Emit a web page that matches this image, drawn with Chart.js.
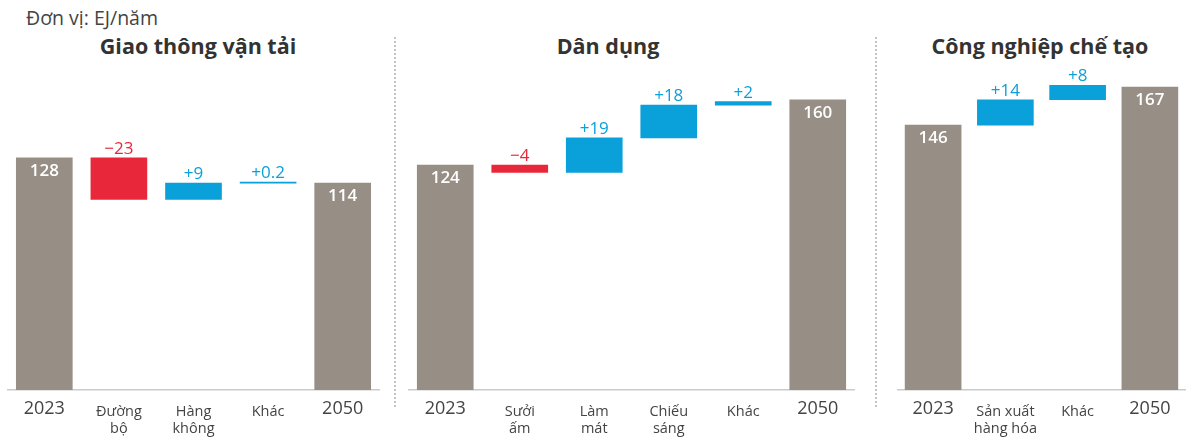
<!DOCTYPE html>
<html>
<head>
<meta charset="utf-8">
<script src="https://cdn.jsdelivr.net/npm/chart.js@4"></script>
<style>
  body { margin: 0; background: #fff; font-family: "Open Sans", sans-serif; }
  #wrap { position: relative; width: 1200px; height: 447px; overflow: hidden; }
  canvas { position: absolute; top: 0; }
  .tieude { position: absolute; top: 31px; font-weight: 700; font-size: 21.5px; color: #333; transform: translateX(-50%); white-space: nowrap; }
  .donvi { position: absolute; left: 26px; top: 4px; font-size: 19.5px; color: #444; }
  .vach { position: absolute; top: 37px; height: 370px; width: 0; border-left: 2px dotted #c4c4c4; }
</style>
</head>
<body>
<div id="wrap">
  <div class="donvi">Đơn vị: EJ/năm</div>
  <div class="tieude" style="left:198px">Giao thông vận tải</div>
  <div class="tieude" style="left:608px">Dân dụng</div>
  <div class="tieude" style="left:1040px">Công nghiệp chế tạo</div>
  <div class="vach" style="left:394px"></div>
  <div class="vach" style="left:875px"></div>
  <canvas id="c1" width="373" height="447" style="left:7px"></canvas>
  <canvas id="c2" width="447" height="447" style="left:408px"></canvas>
  <canvas id="c3" width="289" height="447" style="left:897px"></canvas>
</div>
<script>
// Giao thông vận tải
const nhanGT = ["2023", ["Đường", "bộ"], ["Hàng", "không"], "Khác", "2050"];
const dauGT = 128;
const thayDoiGT = [-23, 9, 0.2];
const cuoiGT = 114;

// Dân dụng
const nhanDD = ["2023", ["Sưởi", "ấm"], ["Làm", "mát"], ["Chiếu", "sáng"], "Khác", "2050"];
const dauDD = 124;
const thayDoiDD = [-4, 19, 18, 2];
const cuoiDD = 160;

// Công nghiệp chế tạo
const nhanCN = ["2023", ["Sản xuất", "hàng hóa"], "Khác", "2050"];
const dauCN = 146;
const thayDoiCN = [14, 8];
const cuoiCN = 167;

const yMax = 183;

const mauTong = "#978e85";
const mauGiam = "#e8283a";
const mauTang = "#0aa0da";
const mauChu = "#444";

function taoDuLieu(dau, thayDoi, cuoi) {
  const data = [[0, dau]];
  const nhanSo = [String(dau)];
  let muc = dau;
  thayDoi.forEach((d) => {
    data.push([muc, muc + d]);
    nhanSo.push((d < 0 ? "\u2212" : "+") + Math.abs(d));
    muc += d;
  });
  data.push([0, cuoi]);
  nhanSo.push(String(cuoi));
  return { data, nhanSo };
}

// Vẽ số liệu trên/trong cột
const nhanCot = {
  id: "nhanCot",
  afterDatasetsDraw(chart) {
    const ctx = chart.ctx;
    const meta = chart.getDatasetMeta(0);
    const ds = chart.data.datasets[0];
    const n = meta.data.length;
    ctx.save();
    ctx.textAlign = "center";
    meta.data.forEach((bar, i) => {
      const top = Math.min(bar.y, bar.base);
      const txt = ds.nhanSo[i];
      if (i === 0 || i === n - 1) {
        ctx.font = "600 17px 'Open Sans', sans-serif";
        ctx.fillStyle = "#fff";
        ctx.textBaseline = "middle";
        ctx.fillText(txt, bar.x, top + 13);
      } else {
        ctx.font = "400 17px 'Open Sans', sans-serif";
        ctx.fillStyle = txt.startsWith("+") ? mauTang : mauGiam;
        ctx.textBaseline = "alphabetic";
        ctx.fillText(txt, bar.x, top - 4);
      }
    });
    ctx.restore();
  },
};

function veBieuDo(id, nhan, dau, thayDoi, cuoi) {
  const kq = taoDuLieu(dau, thayDoi, cuoi);
  const n = kq.data.length;
  new Chart(document.getElementById(id), {
    type: "bar",
    data: {
      labels: nhan,
      datasets: [
        {
          data: kq.data,
          nhanSo: kq.nhanSo,
          backgroundColor: kq.data.map((v, i) =>
            i === 0 || i === n - 1 ? mauTong : v[1] < v[0] ? mauGiam : mauTang
          ),
          borderWidth: 0,
          borderSkipped: false,
          barThickness: 56,
          minBarLength: 1,
        },
      ],
    },
    options: {
      responsive: false,
      animation: false,
      layout: { padding: { top: 58, left: 0, right: 0, bottom: 0 } },
      plugins: { legend: { display: false }, tooltip: { enabled: false } },
      scales: {
        x: {
          grid: { display: false, drawTicks: false },
          border: { display: true, color: "#cbcbcb", width: 1.5 },
          ticks: {
            padding: 13,
            color: mauChu,
            autoSkip: false,
            maxRotation: 0,
            font: (c) =>
              c.index === 0 || c.index === n - 1
                ? { size: 18, family: "'Open Sans', sans-serif", lineHeight: 0.62 }
                : { size: 14.5, family: "'Open Sans', sans-serif", lineHeight: 1.17 },
          },
          afterFit: (s) => { s.height = 57; },
        },
        y: { display: false, min: 0, max: yMax },
      },
    },
    plugins: [nhanCot],
  });
}

veBieuDo("c1", nhanGT, dauGT, thayDoiGT, cuoiGT);
veBieuDo("c2", nhanDD, dauDD, thayDoiDD, cuoiDD);
veBieuDo("c3", nhanCN, dauCN, thayDoiCN, cuoiCN);
</script>
</body>
</html>
